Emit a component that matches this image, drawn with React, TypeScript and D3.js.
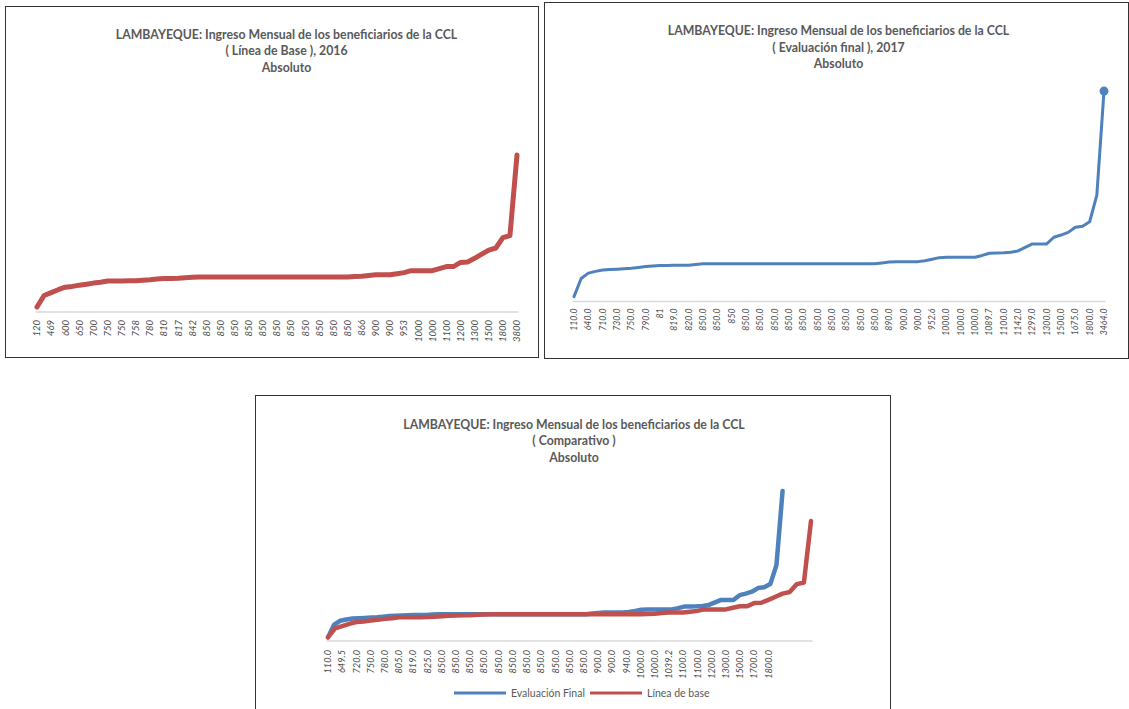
import React from "react";
import * as d3 from "d3";

// Ingreso mensual (ordenado) - Línea de base 2016. One value every half labelled category.
const ticksBase = [
  "120", "469", "600", "650", "700", "750", "750", "758", "780", "810", "817", "842",
  "850", "850", "850", "850", "850", "850", "850", "850", "850", "850", "850",
  "866", "900", "900", "953", "1000", "1000", "1100", "1200", "1300", "1500", "1800", "3800",
];
const valuesBase = [
  120, 400, 469, 540, 600, 620, 650, 670, 700, 720, 750, 750, 750, 755, 758, 770, 780, 800,
  810, 812, 817, 830, 842, 850,
  850, 850, 850, 850, 850, 850, 850, 850, 850, 850, 850, 850, 850, 850, 850, 850, 850, 850,
  850, 850, 850,
  858, 866, 885, 900, 900, 900, 925, 953, 1000, 1000, 1000, 1000, 1050, 1100, 1100, 1200,
  1210, 1300, 1400, 1500, 1550, 1800, 1850, 3800,
];

// Evaluación final 2017
const ticksFinal = [
  "110.0", "640.0", "710.0", "730.0", "750.0", "790.0", "81", "819.0", "820.0",
  "850.0", "850.0", "850", "850.0", "850.0", "850.0", "850.0", "850.0", "850.0", "850.0",
  "850.0", "850.0", "850.0", "890.0", "900.0", "900.0", "952.6", "1000.0", "1000.0",
  "1000.0", "1089.7", "1100.0", "1142.0", "1299.0", "1300.0", "1500.0", "1675.0",
  "1800.0", "3464.0",
];
const valuesFinal = [
  110, 520, 640, 680, 710, 720, 730, 740, 750, 770, 790, 800, 810, 815, 819, 820, 820, 835,
  850,
  850, 850, 850, 850, 850, 850, 850, 850, 850, 850, 850, 850, 850, 850, 850, 850, 850, 850,
  850, 850, 850, 850, 850, 850,
  870, 890, 900, 900, 900, 900, 920, 952.6, 990, 1000, 1000, 1000, 1000, 1000, 1040, 1089.7,
  1095, 1100, 1110, 1142, 1220, 1299, 1300, 1300, 1450, 1500, 1560, 1675, 1700, 1800, 2400,
  4750,
];

// Comparativo: category labels come from the final evaluation series
const ticksComp = [
  "110.0", "649.5", "720.0", "750.0", "780.0", "805.0", "819.0", "825.0",
  "850.0", "850.0", "850.0", "850.0", "850.0", "850.0", "850.0", "850.0", "850.0", "850.0",
  "850.0", "900.0", "900.0", "940.0", "1000.0", "1000.0", "1039.2", "1100.0", "1100.0",
  "1200.0", "1300.0", "1500.0", "1700.0", "1800.0",
];
// in the comparison the final series has fewer records: it ends at category 32, the base at 34
const compFinalEnd = 32;
const compBaseEnd = 34;

const RED = "#C0504D";
const BLUE = "#4F81BD";
const GREY = "#595959";
const FONT = "Lato, 'Open Sans', sans-serif";

interface Series {
  name: string;
  values: number[];
  end: number;
  color: string;
  width: number;
  marker?: boolean;
}

interface PanelProps {
  frame: [number, number, number, number];
  title: string[];
  titleX: number;
  titleY: number;
  xRange: [number, number];
  tEnd: number;
  baseY: number;
  topY: number;
  yMax: number;
  ticks: string[];
  tickSize: number;
  tickGap: number;
  series: Series[];
  legend?: { x: number; y: number };
}

const Panel: React.FC<PanelProps> = (p) => {
  const x = d3.scaleLinear().domain([0, p.tEnd]).range(p.xRange);
  const y = d3.scaleLinear().domain([0, p.yMax]).range([p.baseY, p.topY]);
  const [fx, fy, fw, fh] = p.frame;

  return (
    <g>
      <rect x={fx + 0.5} y={fy + 0.5} width={fw} height={fh} fill="#fff" stroke="#333" strokeWidth={1} />
      {p.title.map((t, i) => (
        <text
          key={i}
          x={p.titleX}
          y={p.titleY + i * 16.5}
          textAnchor="middle"
          fontFamily={FONT}
          fontWeight="bold"
          fontSize={12.3}
          fill={GREY}
        >
          {t}
        </text>
      ))}
      <line
        x1={p.xRange[0] - 1.5}
        x2={p.xRange[1] + 1.5}
        y1={p.baseY}
        y2={p.baseY}
        stroke="#D9D9D9"
        strokeWidth={1.5}
      />
      {p.ticks.map((t, i) => (
        <text
          key={i}
          transform={`translate(${x(i)},${p.baseY + p.tickGap}) rotate(-90)`}
          dy="0.35em"
          textAnchor="end"
          fontFamily={FONT}
          fontStyle="italic"
          fontSize={p.tickSize}
          fill="#4a4a4a"
        >
          {t}
        </text>
      ))}
      {p.series.map((s) => {
        const step = s.end / (s.values.length - 1);
        const line = d3
          .line<number>()
          .x((_, j) => x(j * step))
          .y((v) => y(v));
        const last = s.values.length - 1;
        return (
          <g key={s.name}>
            <path
              d={line(s.values) || ""}
              fill="none"
              stroke={s.color}
              strokeWidth={s.width}
              strokeLinejoin="round"
              strokeLinecap="round"
            />
            {s.marker && (
              <circle cx={x(last * step)} cy={y(s.values[last])} r={4.5} fill={s.color} />
            )}
          </g>
        );
      })}
      {p.legend && (
        <g fontFamily={FONT} fontSize={10.5} fill={GREY}>
          {p.series.map((s, i) => {
            const lx = p.legend!.x + i * 136;
            return (
              <g key={s.name}>
                <line x1={lx} x2={lx + 52} y1={p.legend!.y} y2={p.legend!.y} stroke={s.color} strokeWidth={3} />
                <text x={lx + 57} y={p.legend!.y + 3.8}>
                  {s.name}
                </text>
              </g>
            );
          })}
        </g>
      )}
    </g>
  );
};

export default function App() {
  return (
    <svg
      width={1129}
      height={709}
      style={{ position: "absolute", left: 0, top: 0, background: "#fff" }}
    >
      <Panel
        frame={[5, 6, 533, 351]}
        title={[
          "LAMBAYEQUE: Ingreso Mensual de los beneficiarios de la CCL",
          "( Línea de Base ), 2016",
          "Absoluto",
        ]}
        titleX={286.5}
        titleY={38.5}
        xRange={[37, 517]}
        tEnd={ticksBase.length - 1}
        baseY={312}
        topY={146.8}
        yMax={4000}
        ticks={ticksBase}
        tickSize={9.5}
        tickGap={8}
        series={[{ name: "Línea de base", values: valuesBase, end: ticksBase.length - 1, color: RED, width: 5 }]}
      />
      <Panel
        frame={[544, 2, 584, 356]}
        title={[
          "LAMBAYEQUE: Ingreso Mensual de los beneficiarios de la CCL",
          "( Evaluación final ), 2017",
          "Absoluto",
        ]}
        titleX={838.5}
        titleY={35}
        xRange={[574, 1104]}
        tEnd={ticksFinal.length - 1}
        baseY={301.5}
        topY={80}
        yMax={5000}
        ticks={ticksFinal}
        tickSize={8.7}
        tickGap={7}
        series={[
          { name: "Evaluación Final", values: valuesFinal, end: ticksFinal.length - 1, color: BLUE, width: 3, marker: true },
        ]}
      />
      <Panel
        frame={[255, 395, 635, 330]}
        title={[
          "LAMBAYEQUE: Ingreso Mensual de los beneficiarios de la CCL",
          "( Comparativo )",
          "Absoluto",
        ]}
        titleX={574}
        titleY={428.5}
        xRange={[328, 811]}
        tEnd={compBaseEnd}
        baseY={641}
        topY={483}
        yMax={5000}
        ticks={ticksComp}
        tickSize={9.2}
        tickGap={9}
        series={[
          { name: "Evaluación Final", values: valuesFinal, end: compFinalEnd, color: BLUE, width: 4.5 },
          { name: "Línea de base", values: valuesBase, end: compBaseEnd, color: RED, width: 4.5 },
        ]}
        legend={{ x: 454, y: 693 }}
      />
    </svg>
  );
}
